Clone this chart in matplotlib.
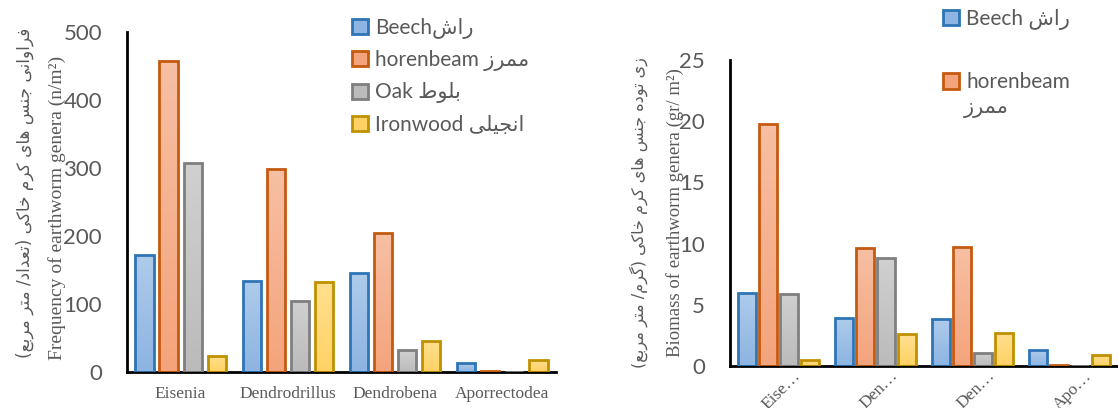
import numpy as np
import matplotlib
matplotlib.use('Agg')
import matplotlib.pyplot as plt
from matplotlib.patches import Patch
from matplotlib.colors import LinearSegmentedColormap
from matplotlib.transforms import ScaledTranslation

# ---- data ----
genera = ['Eisenia', 'Dendrodrillus', 'Dendrobena', 'Aporrectodea']
genera_short = ['Eise…', 'Den…', 'Den…', 'Apo…']
species = ['Beech', 'horenbeam', 'Oak', 'Ironwood']
species_fa = ['راش', 'ممرز', 'بلوط', 'انجیلی']

freq_beech = [172, 134, 145, 13]
freq_horn = [457, 298, 204, 2]
freq_oak = [308, 105, 32, 0]
freq_iron = [24, 132, 46, 18]

bio_beech = [6.0, 3.9, 3.8, 1.3]
bio_horn = [19.8, 9.6, 9.7, 0.1]
bio_oak = [5.9, 8.8, 1.1, 0.0]
bio_iron = [0.5, 2.6, 2.7, 0.9]

ylabel_fa_left = 'فراوانی جنس های کرم خاکی (تعداد/ متر مربع)'
ylabel_en_left = 'Frequency of earthworm genera (n/m²)'
ylabel_fa_right = 'زی توده جنس های کرم خاکی (گرم/ متر مربع)'
ylabel_en_right = 'Biomass of earthworm genera (gr/ m²)'

# fill top, fill bottom, edge
styles = [
    ('#AECBEB', '#8DB4E2', '#2E75B6'),
    ('#F7BFA3', '#F4A47C', '#C55A11'),
    ('#D0D0D0', '#BBBBBB', '#7F7F7F'),
    ('#FFDF8F', '#FFD265', '#BF9000'),
]
grey = '#595959'
fa_font = ['Lato', 'DejaVu Sans']


# ---- minimal persian shaping (matplotlib has no bidi/joining) ----
FORMS = {
    'ا': ('\uFE8D', '\uFE8E', None, None),
    'آ': ('\uFE81', '\uFE82', None, None),
    'د': ('\uFEA9', '\uFEAA', None, None),
    'ذ': ('\uFEAB', '\uFEAC', None, None),
    'ر': ('\uFEAD', '\uFEAE', None, None),
    'ز': ('\uFEAF', '\uFEB0', None, None),
    'و': ('\uFEED', '\uFEEE', None, None),
    'ب': ('\uFE8F', '\uFE90', '\uFE91', '\uFE92'),
    'ت': ('\uFE95', '\uFE96', '\uFE97', '\uFE98'),
    'ج': ('\uFE9D', '\uFE9E', '\uFE9F', '\uFEA0'),
    'خ': ('\uFEA5', '\uFEA6', '\uFEA7', '\uFEA8'),
    'س': ('\uFEB1', '\uFEB2', '\uFEB3', '\uFEB4'),
    'ش': ('\uFEB5', '\uFEB6', '\uFEB7', '\uFEB8'),
    'ط': ('\uFEC1', '\uFEC2', '\uFEC3', '\uFEC4'),
    'ع': ('\uFEC9', '\uFECA', '\uFECB', '\uFECC'),
    'ف': ('\uFED1', '\uFED2', '\uFED3', '\uFED4'),
    'ک': ('\uFB8E', '\uFB8F', '\uFB90', '\uFB91'),
    'گ': ('\uFB92', '\uFB93', '\uFB94', '\uFB95'),
    'ل': ('\uFEDD', '\uFEDE', '\uFEDF', '\uFEE0'),
    'م': ('\uFEE1', '\uFEE2', '\uFEE3', '\uFEE4'),
    'ن': ('\uFEE5', '\uFEE6', '\uFEE7', '\uFEE8'),
    'ه': ('\uFEE9', '\uFEEA', '\uFEEB', '\uFEEC'),
    'ی': ('\uFBFC', '\uFBFD', '\uFBFE', '\uFBFF'),
}
MIRROR = {'(': ')', ')': '('}


def fa(s):
    out = []
    for i, c in enumerate(s):
        if c not in FORMS:
            out.append(c)
            continue
        prev = s[i - 1] if i > 0 else ''
        nxt = s[i + 1] if i + 1 < len(s) else ''
        jp = prev in FORMS and FORMS[prev][2] is not None
        jn = nxt in FORMS and FORMS[c][2] is not None
        iso, fin, ini, med = FORMS[c]
        if jp and jn:
            out.append(med)
        elif jp:
            out.append(fin)
        elif jn:
            out.append(ini)
        else:
            out.append(iso)
    return ''.join(MIRROR.get(c, c) for c in reversed(out))


def grouped_bars(ax, series, step, width):
    x = np.arange(len(genera))
    for k, vals in enumerate(series):
        top, bot, edge = styles[k]
        bars = ax.bar(x + (k - 1.5) * step, vals, width, facecolor='none',
                      edgecolor=edge, linewidth=2, zorder=3)
        cmap = LinearSegmentedColormap.from_list('g%d' % k, [bot, top])
        for p in bars:
            if p.get_height() <= 0:
                continue
            x0, w, h = p.get_x(), p.get_width(), p.get_height()
            im = ax.imshow(np.linspace(0, 1, 64).reshape(-1, 1), cmap=cmap,
                           extent=[x0, x0 + w, 0, h], origin='lower',
                           aspect='auto', zorder=2)
            im.set_clip_path(p)
    ax.set_xlim(-0.5, len(genera) - 0.5)
    ax.set_xticks(x)
    for s in ['top', 'right']:
        ax.spines[s].set_visible(False)
    for s in ['left', 'bottom']:
        ax.spines[s].set_linewidth(2)
        ax.spines[s].set_color('black')
    ax.tick_params(axis='both', length=0)
    ax.tick_params(axis='y', labelsize=16, labelcolor=grey, pad=18)


fig = plt.figure(figsize=(11.18, 4.08), dpi=100)

handles = [Patch(facecolor=styles[k][1], edgecolor=styles[k][2], linewidth=2)
           for k in range(4)]

# left chart: frequency
ax1 = fig.add_axes([0.1136, 0.088, 0.3837, 0.8336])
grouped_bars(ax1, [freq_beech, freq_horn, freq_oak, freq_iron], 0.224, 0.17)
ax1.set_ylim(0, 500)
ax1.set_yticks(range(0, 501, 100))
for t in ax1.get_yticklabels():
    t.set_fontfamily('Lato')
ax1.set_xticklabels(genera, fontfamily='Liberation Serif', fontsize=12.5,
                    color=grey)
ax1.tick_params(axis='x', pad=10)

labels1 = ['Beech' + fa(species_fa[0]),
           'horenbeam ' + fa(species_fa[1]),
           'Oak ' + fa(species_fa[2]),
           'Ironwood ' + fa(species_fa[3])]
leg1 = ax1.legend(handles, labels1, loc='upper left',
                  bbox_to_anchor=(0.298, 1.003), bbox_transform=fig.transFigure,
                  frameon=False, handlelength=0.75, handleheight=0.75,
                  handletextpad=0.35, labelspacing=0.55,
                  prop={'family': fa_font, 'size': 15})
for t in leg1.get_texts():
    t.set_color(grey)

fig.text(0.0224, 0.527, fa(ylabel_fa_left), rotation=90, ha='center',
         va='center', fontsize=12.2, color=grey, family=['DejaVu Sans'])
fig.text(0.051, 0.49, ylabel_en_left, rotation=90, ha='center', va='center',
         fontsize=14, color=grey, family='Liberation Serif')

# right chart: biomass
ax2 = fig.add_axes([0.653, 0.103, 0.347, 0.75])
grouped_bars(ax2, [bio_beech, bio_horn, bio_oak, bio_iron], 0.216, 0.186)
ax2.set_ylim(0, 25)
ax2.set_yticks(range(0, 26, 5))
for t in ax2.get_yticklabels():
    t.set_fontfamily('Lato')
ax2.set_xticklabels([])
shift = ScaledTranslation(0.14, -0.02, fig.dpi_scale_trans)
for i, name in enumerate(genera_short):
    ax2.text(i, 0, name, transform=ax2.get_xaxis_transform() + shift,
             rotation=45, rotation_mode='anchor', ha='right', va='top',
             fontfamily='Liberation Serif', fontsize=12.5, color=grey)

leg2 = ax2.legend(handles[:2], ['Beech ' + fa(species_fa[0]), 'horenbeam'],
                  loc='upper left', bbox_to_anchor=(0.827, 1.025),
                  bbox_transform=fig.transFigure, frameon=False,
                  handlelength=0.75, handleheight=0.75, handletextpad=0.35,
                  labelspacing=2.05, prop={'family': fa_font, 'size': 15})
for t in leg2.get_texts():
    t.set_color(grey)
fig.text(0.862, 0.735, fa(species_fa[1]), ha='left', va='center', fontsize=15,
         color=grey, family=fa_font)

fig.text(0.571, 0.48, fa(ylabel_fa_right), rotation=90, ha='center',
         va='center', fontsize=11.6, color=grey, family=['DejaVu Sans'])
fig.text(0.604, 0.48, ylabel_en_right, rotation=90, ha='center', va='center',
         fontsize=13.5, color=grey, family='Liberation Serif')

fig.savefig('out.png', dpi=100)
